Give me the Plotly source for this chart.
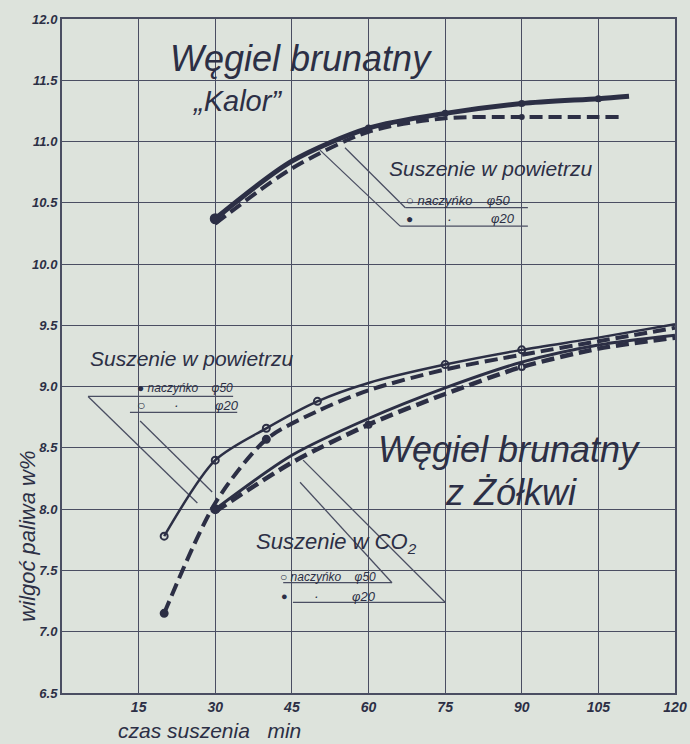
import plotly.graph_objects as go

# ---------------- data ----------------
x_ticks = [15, 30, 45, 60, 75, 90, 105, 120]
y_ticks = [6.5, 7.0, 7.5, 8.0, 8.5, 9.0, 9.5, 10.0, 10.5, 11.0, 11.5, 12.0]
y_tick_labels = ["6.5", "7.0", "7.5", "8.0", "8.5", "9.0", "9.5", "10.0", "10.5", "11.0", "11.5", "12.0"]

# Węgiel brunatny "Kalor" – suszenie w powietrzu
kalor_phi20_t = [30, 45, 60, 75, 90, 105, 111]
kalor_phi20 = [10.37, 10.84, 11.11, 11.23, 11.31, 11.35, 11.37]
kalor_phi50_t = [30, 45, 60, 75, 90, 105, 109]
kalor_phi50 = [10.33, 10.78, 11.08, 11.19, 11.20, 11.20, 11.20]
kalor_phi20_marks = [60, 75, 90, 105]
kalor_phi20_start = [30]
kalor_phi50_marks = [90]

# Węgiel brunatny z Żółkwi – suszenie w powietrzu
air_t = [20, 30, 40, 50, 60, 75, 90, 105, 120]
air_phi20 = [7.78, 8.40, 8.66, 8.88, 9.03, 9.18, 9.30, 9.40, 9.51]
air_phi50 = [7.15, 8.05, 8.57, 8.80, 8.97, 9.14, 9.26, 9.37, 9.48]
air_phi20_marks = [20, 30, 40, 50, 75, 90]
air_phi50_marks = [20, 40]

# Węgiel brunatny z Żółkwi – suszenie w CO2
co2_t = [30, 45, 60, 75, 90, 105, 120]
co2_phi20 = [8.00, 8.44, 8.74, 8.99, 9.20, 9.34, 9.42]
co2_phi50 = [7.98, 8.38, 8.69, 8.94, 9.16, 9.31, 9.40]
co2_phi50_marks = [60, 90]
co2_phi20_marks = [30]

# ---------------- styling ----------------
INK = "#2c2f45"
GRID = "#4a4e62"
BG = "#dde3dc"
FONT = "Liberation Sans"
DASH = "13px,6px"

fig = go.Figure()


def line(t, v, width, dash="solid"):
    fig.add_trace(go.Scatter(x=t, y=v, mode="lines",
                             line=dict(color=INK, width=width, dash=dash, shape="spline", smoothing=0.8),
                             hoverinfo="skip", showlegend=False))


def marks(t_all, v_all, t_sel, filled, size):
    lut = dict(zip(t_all, v_all))
    fig.add_trace(go.Scatter(x=t_sel, y=[lut[t] for t in t_sel], mode="markers",
                             marker=dict(symbol="circle" if filled else "circle-open",
                                         color=INK, size=size,
                                         line=dict(color=INK, width=2)),
                             hoverinfo="skip", showlegend=False))


# Kalor
line(kalor_phi50_t, kalor_phi50, 4, DASH)
line(kalor_phi20_t, kalor_phi20, 5)
marks(kalor_phi20_t, kalor_phi20, kalor_phi20_start, True, 9)
marks(kalor_phi20_t, kalor_phi20, kalor_phi20_marks, True, 5)
marks(kalor_phi50_t, kalor_phi50, kalor_phi50_marks, True, 4)

# Żółkwi air
line(air_t, air_phi50, 4, DASH)
line(air_t, air_phi20, 2.5)
marks(air_t, air_phi20, air_phi20_marks, False, 7)
marks(air_t, air_phi50, air_phi50_marks, True, 7)

# Żółkwi CO2
line(co2_t, co2_phi50, 4.5, DASH)
line(co2_t, co2_phi20, 3)
marks(co2_t, co2_phi50, co2_phi50_marks, False, 6)
marks(co2_t, co2_phi20, co2_phi20_marks, True, 8)


# ---------------- texts ----------------
def txt(x, y, s, size, xanchor="center"):
    fig.add_annotation(x=x, y=y, xref="x", yref="y",
                       text=s, showarrow=False, xanchor=xanchor, yanchor="middle",
                       font=dict(family=FONT, size=size, color=INK, style="italic"))


txt(46.8, 11.68, "Węgiel brunatny", 36)
txt(34.3, 11.33, "„Kalor”", 29)
txt(83.8, 10.78, "Suszenie w powietrzu", 21)
txt(67.0, 10.52, "○ naczyńko    φ50", 13, "left")
txt(67.0, 10.37, "●", 12, "left")
txt(75.0, 10.37, "·", 14, "left")
txt(83.5, 10.37, "φ20", 13, "left")

txt(25.3, 9.23, "Suszenie w powietrzu", 21)
txt(14.2, 8.99, "● naczyńko    φ50", 12, "left")
txt(14.2, 8.85, "○", 14, "left")
txt(21.5, 8.85, "·", 14, "left")
txt(29.5, 8.85, "φ20", 13, "left")

txt(53.7, 7.72, "Suszenie w CO<sub>2</sub>", 22)
txt(42.3, 7.45, "○ naczyńko    φ50", 12, "left")
txt(42.5, 7.29, "●", 11, "left")
txt(49.0, 7.29, "·", 14, "left")
txt(56.3, 7.29, "φ20", 13, "left")

txt(87.5, 8.49, "Węgiel brunatny", 36)
txt(87.8, 8.14, "z Żółkwi", 36)

fig.add_annotation(x=-0.056, y=0.233, xref="paper", yref="paper", text="wilgoć paliwa w%",
                   textangle=-90, showarrow=False, xanchor="center", yanchor="middle",
                   font=dict(family=FONT, size=22, color=INK, style="italic"))
fig.add_annotation(x=0.240, y=-0.055, xref="paper", yref="paper", text="czas suszenia   min",
                   showarrow=False, xanchor="center", yanchor="middle",
                   font=dict(family=FONT, size=21, color=INK, style="italic"))

# ---------------- underlines and leader lines ----------------
segs = [
    # Kalor legend
    (67.2, 10.46, 91.2, 10.46), (66.2, 10.31, 91.2, 10.31),
    (55.4, 10.95, 67.2, 10.46), (50.5, 10.93, 66.2, 10.31),
    # air legend
    (5.1, 8.92, 33.5, 8.92), (13.3, 8.79, 34.3, 8.79),
    (5.1, 8.92, 26.5, 8.05), (15.3, 8.72, 29.4, 8.14),
    # CO2 legend
    (43.3, 7.40, 64.6, 7.40), (45.2, 7.24, 75.0, 7.24),
    (46.6, 8.22, 64.6, 7.40), (47.2, 8.40, 75.0, 7.24),
]
for x0, y0, x1, y1 in segs:
    fig.add_shape(type="line", x0=x0, y0=y0, x1=x1, y1=y1, xref="x", yref="y",
                  line=dict(color=GRID, width=1.3), layer="below")

fig.update_layout(
    width=690, height=744,
    margin=dict(l=62, r=15, t=19, b=51, autoexpand=False),
    paper_bgcolor=BG, plot_bgcolor=BG,
    showlegend=False,
    xaxis=dict(range=[0, 120], tickvals=x_ticks, ticktext=[str(t) for t in x_ticks],
               showgrid=True, gridcolor=GRID, gridwidth=1.3, zeroline=False,
               showline=True, linecolor=GRID, linewidth=2, mirror=True,
               ticks="", ticklen=0, automargin=False, ticklabeloverflow="allow",
               tickfont=dict(family=FONT, size=14, color=INK, style="italic", weight="bold")),
    yaxis=dict(range=[6.5, 12.0], tickvals=y_ticks, ticktext=y_tick_labels,
               showgrid=True, gridcolor=GRID, gridwidth=1.3, zeroline=False,
               showline=True, linecolor=GRID, linewidth=2, mirror=True,
               ticks="", ticklen=0, automargin=False, ticklabeloverflow="allow",
               tickfont=dict(family=FONT, size=13, color=INK, style="italic", weight="bold")),
)

fig.write_html("out.html", config={"displayModeBar": False},
               post_script="document.body.style.margin='0';document.body.style.overflow='hidden';")
